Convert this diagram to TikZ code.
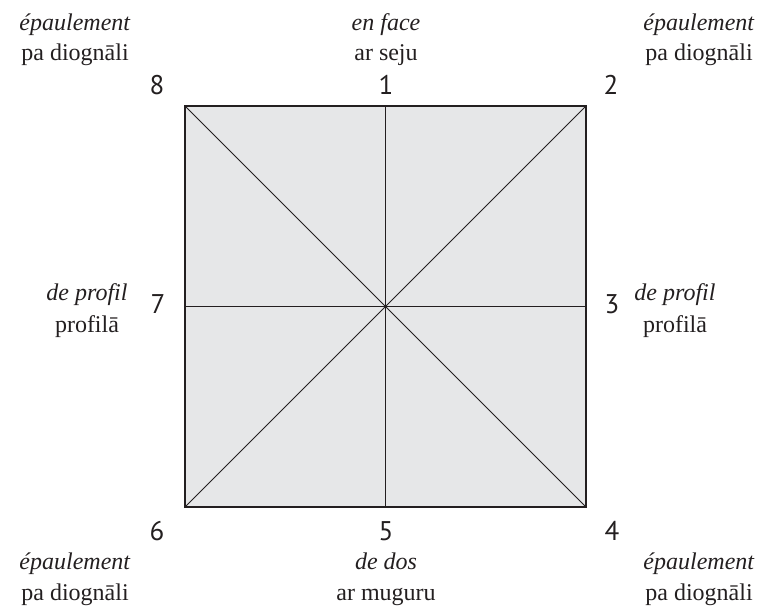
\documentclass[tikz,border=0pt]{standalone}
\usepackage{fontspec}
\setmainfont{Liberation Serif}
\newfontfamily\digitfont{PT Sans}
\definecolor{boxfill}{HTML}{E6E7E8}
\definecolor{ink}{HTML}{231F20}
\begin{document}
\begin{tikzpicture}[x=1pt,y=-1pt,
  lbl/.style={anchor=base, inner sep=0pt, font=\fontsize{24}{28}\selectfont, text=ink},
  num/.style={anchor=base, inner sep=0pt, font=\digitfont\fontsize{27}{30}\selectfont, text=ink},
  thin/.style={draw=ink, line width=0.9pt}]
\useasboundingbox (0,0) rectangle (767,607);
\coordinate (nw) at (185,106);
\coordinate (ne) at (586,106);
\coordinate (se) at (586,507);
\coordinate (sw) at (185,507);
\coordinate (c) at (385.5,306.5);
\coordinate (n) at (385.5,106);
\coordinate (s) at (385.5,507);
\coordinate (w) at (185,306.5);
\coordinate (e) at (586,306.5);
\fill[boxfill] (nw) rectangle (se);
\draw[thin] (nw) -- (se);
\draw[thin] (ne) -- (sw);
\draw[thin] (n) -- (s);
\draw[thin] (w) -- (e);
\draw[draw=ink, line width=2.6pt] (nw) rectangle (se);
% numbers
\node[num] (d8) at (157,95) {8};
\node[num] (d1) at (386,95) {1};
\node[num] (d2) at (611,95) {2};
\node[num] (d7) at (158,313) {7};
\node[num] (d3) at (612,313) {3};
\node[num] (d6) at (157,540) {6};
\node[num] (d5) at (386,540) {5};
\node[num] (d4) at (612,540) {4};
% top labels
\node[lbl] (tl1) at (75,31) {\textit{épaulement}};
\node[lbl] (tl2) at (75,61) {pa diognāli};
\node[lbl] (tc1) at (386,31) {\textit{en face}};
\node[lbl] (tc2) at (386,61) {ar seju};
\node[lbl] (tr1) at (699,31) {\textit{épaulement}};
\node[lbl] (tr2) at (699,61) {pa diognāli};
% side labels
\node[lbl] (ml1) at (87,300) {\textit{de profil}};
\node[lbl] (ml2) at (87,332) {profilā};
\node[lbl] (mr1) at (675,300) {\textit{de profil}};
\node[lbl] (mr2) at (675,332) {profilā};
% bottom labels
\node[lbl] (bl1) at (75,569) {\textit{épaulement}};
\node[lbl] (bl2) at (75,600) {pa diognāli};
\node[lbl] (bc1) at (386,569) {\textit{de dos}};
\node[lbl] (bc2) at (386,600) {ar muguru};
\node[lbl] (br1) at (699,569) {\textit{épaulement}};
\node[lbl] (br2) at (699,600) {pa diognāli};
\end{tikzpicture}
\end{document}
